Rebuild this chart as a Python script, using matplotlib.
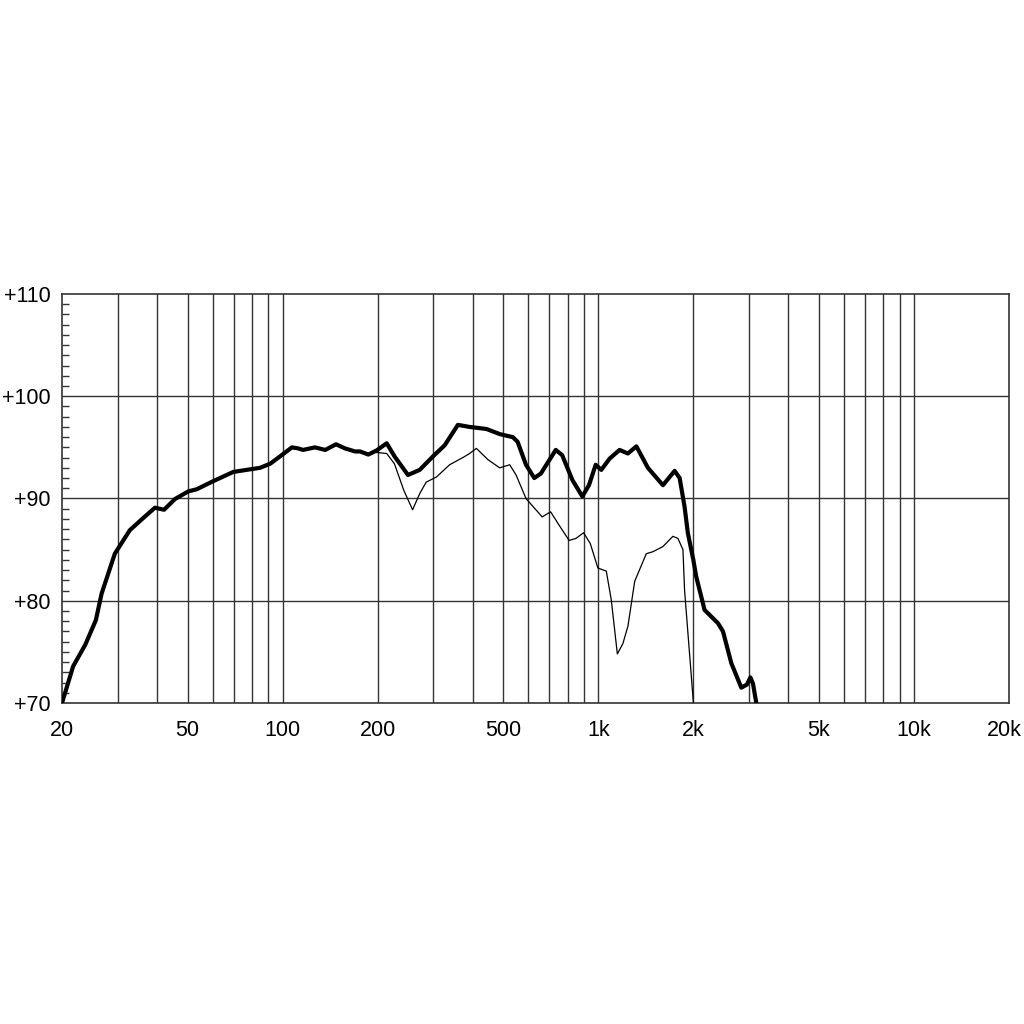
import matplotlib
matplotlib.use("Agg")
import matplotlib.pyplot as plt
import matplotlib.transforms as mtransforms
from matplotlib.ticker import FixedLocator, NullFormatter, NullLocator

plt.rcParams['font.family'] = ['Liberation Sans', 'DejaVu Sans']

# Thick curve (on-axis response)
thick_f = [20, 21.7, 23.7, 25.6, 26.7, 29.4, 32.8, 36.2, 39.4, 42.1, 45.6, 50.3, 53.4,
           60.3, 69.8, 76.9, 84.8, 91.3, 99.4, 107, 112, 116, 126.6, 136.4, 147.6, 157.6,
           169.6, 176, 186.8, 198.5, 213.6, 226.4, 249.5, 271.8, 299, 326, 359, 391, 442,
           487, 536, 555, 590, 627, 658, 733, 768, 828, 890, 934, 981, 1022, 1086, 1168,
           1241, 1320, 1436, 1602, 1745, 1810, 1876, 1922, 2000, 2043, 2171, 2394, 2483,
           2638, 2838, 2957, 3032, 3090, 3166]
thick_db = [70.0, 73.6, 75.7, 78.1, 80.7, 84.6, 86.9, 88.1, 89.1, 88.9, 89.95, 90.7, 90.9,
            91.7, 92.6, 92.8, 93.0, 93.4, 94.25, 95.0, 94.9, 94.75, 95.0, 94.75, 95.3, 94.9,
            94.6, 94.6, 94.3, 94.7, 95.4, 94.1, 92.3, 92.8, 94.1, 95.2, 97.2, 97.0, 96.8,
            96.3, 96.0, 95.55, 93.3, 92.0, 92.45, 94.75, 94.25, 91.8, 90.2, 91.3, 93.3, 92.8,
            93.9, 94.75, 94.4, 95.1, 93.0, 91.3, 92.7, 92.0, 89.2, 86.6, 84.0, 82.35, 79.1,
            77.8, 77.0, 73.9, 71.5, 71.8, 72.5, 71.9, 70.0]

# Thin curve (off-axis response)
thin_f = [198.5, 213.6, 226, 242, 258, 272, 285, 307, 338, 377, 391, 411, 447, 487, 524,
          549, 590, 664, 706, 751, 808, 850, 898, 943, 997, 1060, 1099, 1149, 1196, 1241,
          1304, 1419, 1490, 1602, 1723, 1787, 1854, 1876, 2000]
thin_db = [94.5, 94.4, 93.4, 90.8, 88.9, 90.5, 91.6, 92.1, 93.3, 94.1, 94.4, 94.9, 93.8,
           93.0, 93.3, 92.3, 90.0, 88.2, 88.7, 87.4, 85.9, 86.1, 86.65, 85.6, 83.2, 82.9,
           80.1, 74.8, 75.8, 77.5, 81.9, 84.6, 84.8, 85.3, 86.3, 86.1, 85.0, 81.05, 70.1]

x_ticks = [20, 50, 100, 200, 500, 1000, 2000, 5000, 10000, 20000]
x_labels = ['20', '50', '100', '200', '500', '1k', '2k', '5k', '10k', '20k']
y_ticks = [70, 80, 90, 100, 110]
y_labels = ['+70', '+80', '+90', '+100', '+110']

fig = plt.figure(figsize=(10.24, 10.24), dpi=100)
ax = fig.add_axes([62/1024, 1 - 703/1024, (1009-62)/1024, (703-294)/1024])
ax.set_xscale('log')
ax.set_xlim(20, 20000)
ax.set_ylim(70, 110)

grid_col = '#333333'
vgrid = [m * 10**k for k in (1, 2, 3) for m in range(1, 10) if m * 10**k > 20] + [10000]
for v in vgrid:
    ax.axvline(v, color=grid_col, lw=1.0, zorder=1)
for h in [80, 90, 100]:
    ax.axhline(h, color=grid_col, lw=1.0, zorder=1)

ax.plot(thin_f, thin_db, color='black', lw=0.9, zorder=3, clip_on=True,
        solid_joinstyle='round')
ax.plot(thick_f, thick_db, color='black', lw=3.0, zorder=4, solid_joinstyle='round',
        solid_capstyle='round', clip_on=True)

for s in ax.spines.values():
    s.set_color(grid_col)
    s.set_linewidth(1.2)

ax.xaxis.set_major_locator(FixedLocator(x_ticks))
ax.xaxis.set_minor_locator(NullLocator())
ax.set_xticklabels(x_labels)
ax.xaxis.set_minor_formatter(NullFormatter())
ax.tick_params(axis='x', which='both', length=0, pad=12, labelsize=15.5)

# nudge the last label slightly left so it stays inside the canvas
last = ax.get_xticklabels()[-1]
last.set_transform(last.get_transform() +
                   mtransforms.ScaledTranslation(-5/100, 0, fig.dpi_scale_trans))

ax.set_yticks(y_ticks)
ax.set_yticklabels(y_labels)
ax.yaxis.set_minor_locator(FixedLocator([v for v in range(71, 110) if v % 10 != 0]))
ax.tick_params(axis='y', which='major', length=0, pad=8, labelsize=15.5)
ax.tick_params(axis='y', which='minor', direction='in', length=5, width=1.0, color=grid_col)

fig.savefig('out.png', dpi=100, facecolor='white')
